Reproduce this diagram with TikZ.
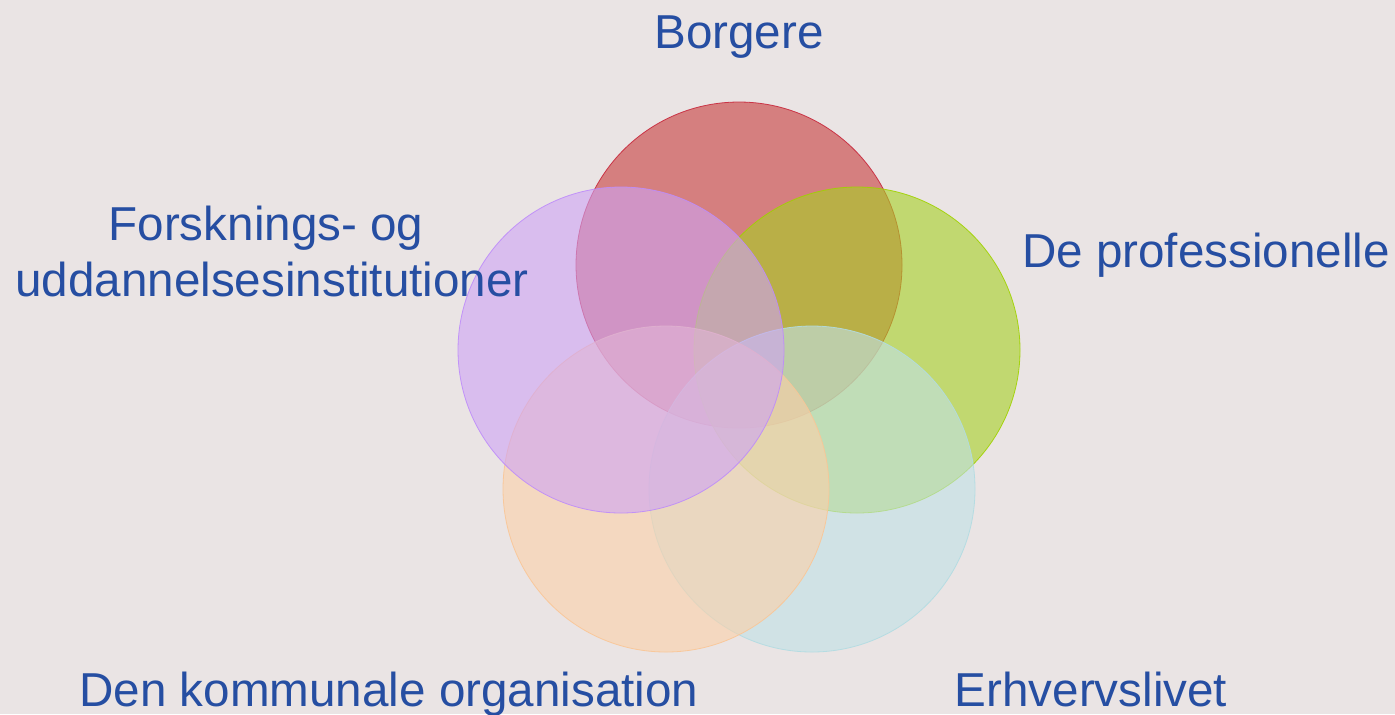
\documentclass[tikz,border=0pt]{standalone}
\usepackage{fontspec}
\setmainfont{Liberation Sans}
\usepackage{tikz}
\usetikzlibrary{shapes}

\definecolor{bggrey}{RGB}{234,228,228}
\definecolor{txtblue}{RGB}{38,78,162}
\definecolor{cred}{RGB}{199,61,61}
\definecolor{cgreen}{RGB}{167,208,35}
\definecolor{cblue}{RGB}{192,225,231}
\definecolor{corange}{RGB}{252,208,168}
\definecolor{cpurple}{RGB}{206,163,245}
% rim colours
\definecolor{ered}{RGB}{200,40,60}
\definecolor{egreen}{RGB}{160,210,0}
\definecolor{eblue}{RGB}{178,220,226}
\definecolor{eorange}{RGB}{250,198,150}
\definecolor{epurple}{RGB}{190,140,250}

\tikzset{
    ring/.style={circle,minimum size=163pt,inner sep=0pt,fill opacity=0.6,draw opacity=0.9,line width=0.4pt},
    lbl/.style={text=txtblue,anchor=base,inner sep=0pt,font=\fontsize{23.8}{28}\selectfont}
}

\begin{document}
\begin{tikzpicture}[x=0.5pt,y=-0.5pt]
                \fill[bggrey] (0,0) rectangle (1395,714);
                \useasboundingbox (0,0) rectangle (1395,714);

                \node[ring,fill=cred,draw=ered] (borg) at (739,265) {};
                \node[ring,fill=cgreen,draw=egreen] (prof) at (857,350) {};
                \node[ring,fill=cblue,draw=eblue] (erhv) at (812,489) {};
                \node[ring,fill=corange,draw=eorange] (komm) at (666,489) {};
                \node[ring,fill=cpurple,draw=epurple] (forsk) at (621,350) {};

                \node[lbl] (tborg) at (739,48) {Borgere};
                \node[lbl] (tprof) at (1206,267) {De professionelle};
                \node[lbl] (tforsk1) at (266,240) {Forsknings- og};
                \node[lbl] (tforsk2) at (272,296) {uddannelsesinstitutioner};
                \node[lbl] (tkomm) at (389,706) {Den kommunale organisation};
                \node[lbl] (terhv) at (1091,706) {Erhvervslivet};

            \end{tikzpicture}
\end{document}
